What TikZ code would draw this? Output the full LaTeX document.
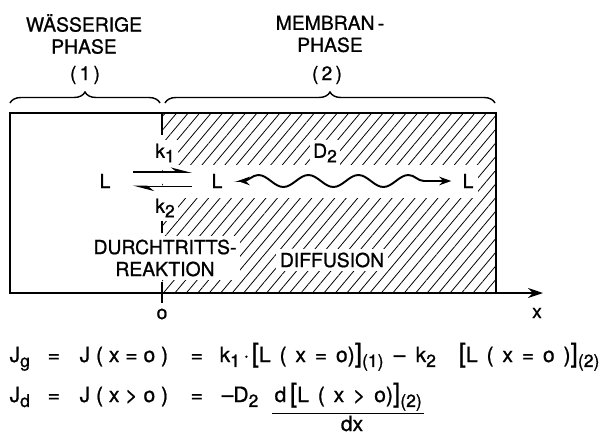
\documentclass[tikz,border=0pt]{standalone}
\usepackage{fontspec}
\setmainfont{TeX Gyre Heros}[BoldFont={TeX Gyre Heros},BoldFeatures={FakeBold=0.9}]
\usepackage{tikz}
\usetikzlibrary{arrows.meta,decorations.pathmorphing,decorations.pathreplacing,patterns.meta}
\newcommand{\idx}[1]{\raisebox{-0.45ex}{\fontsize{10}{10}\selectfont #1}}
\newcommand{\bbr}[1]{{\fontsize{15}{15}\selectfont #1}}
\newcommand{\gp}{\hspace{0.42em}}

\begin{document}
\begin{tikzpicture}[x=0.2mm,y=-0.2mm,line width=1pt,
  font=\fontsize{11}{12.5}\selectfont\bfseries,
  lab/.style={inner sep=1pt},
  wlab/.style={inner sep=2pt,fill=white},
  eqn/.style={inner sep=1pt,anchor=base west,font=\fontsize{12}{14}\selectfont\bfseries},
  harp/.style={line width=1.1pt,-{Stealth[harpoon,length=3.5mm,width=1.8mm]}},
  wave/.style={line width=1.1pt,{Stealth[length=2.4mm,width=1.7mm]}-{Stealth[length=2.4mm,width=1.7mm]},
    decorate,decoration={snake,amplitude=1.2mm,segment length=10mm,pre length=1mm,post length=1mm}},
  hatch/.style={pattern={Lines[angle=50,distance=5pt,line width=0.45pt]}},
  brace/.style={line width=0.8pt,decorate,decoration={brace,amplitude=2.2mm}}]
  \useasboundingbox (0,0) rectangle (602,433);
  % phases
  \fill[hatch] (162,113) rectangle (496,293);
  \fill[white] (163,165) rectangle (478,198);
  \draw (10,113) rectangle (496,293);
  \coordinate (o) at (162,293); \coordinate (xend) at (543,293);
  \draw[-{Stealth[length=3mm,width=2mm]}] (o) -- (xend);
  \draw (162,113) -- (162,135); \draw (162,218) -- (162,233); \draw (162,282) -- (162,303);
  % headers
  \node[lab,align=center] (aq) at (84,34) {WÄSSERIGE\\PHASE};
  \node[lab] (aq1) at (85,75) {(\,1\,)};
  \node[lab,align=center] (mem) at (330,34) {MEMBRAN\,-\\PHASE};
  \node[lab] (mem2) at (327,75) {(\,2\,)};
  \draw[brace] (10,103) -- (160,103);
  \draw[brace] (165,103) -- (495,103);
  % reaction and diffusion
  \node[wlab] (k1) at (165,153) {k\idx{1}};
  \node[wlab] (k2) at (165,208) {k\idx{2}};
  \node[inner sep=0pt] (Lw) at (105,181) {L};
  \node[inner sep=0pt] (Lm) at (217,181) {L};
  \node[inner sep=0pt] (Lr) at (468,181) {L};
  \draw[harp] ([xshift=4.3mm,yshift=1.8mm]Lw.east) -- ([xshift=-3.7mm,yshift=1.8mm]Lm.west);
  \draw[harp] ([xshift=-3.7mm,yshift=-1.1mm]Lm.west) -- ([xshift=4.3mm,yshift=-1.1mm]Lw.east);
  \draw[wave] ([xshift=2.9mm]Lm.east) -- ([xshift=-2.1mm]Lr.west);
  \node[wlab] (D2) at (325,153) {D\idx{2}};
  \node[wlab,align=center] (durch) at (165,258) {DURCHTRITTS-\\REAKTION};
  \node[wlab] (diff) at (332,260) {DIFFUSION};
  \node[lab] (zero) at (162,314) {o};
  \node[lab] (xlab) at (537,313) {x};
  % fluxes
  \node[eqn] (Jg) at (7,362) {J\idx{g}};
  \node[eqn] (eq1) at (45,362) {=};
  \node[eqn] (J0) at (77,362) {J ( x = o )};
  \node[eqn] (eq2) at (188,362) {=};
  \node[eqn] (fl1) at (217,362) {k\idx{1}\,·};
  \node[eqn] (br1) at (249,362) {\bbr{[}L\gp(\gp x\gp=\gp o)\bbr{]}\idx{(1)}};
  \node[eqn] (mi) at (391,362) {–};
  \node[eqn] (k2e) at (413,362) {k\idx{2}};
  \node[eqn] (br2) at (456,362) {\bbr{[}L\gp(\gp x\gp=\gp o\gp)\bbr{]}\idx{(2)}};
  \node[eqn] (Jd) at (7,402) {J\idx{d}};
  \node[eqn] (eq3) at (45,402) {=};
  \node[eqn] (J1) at (77,402) {J ( x > o )};
  \node[eqn] (eq4) at (188,402) {=};
  \node[eqn] (mD) at (219,402) {–D\idx{2}};
  \node[eqn] (num) at (272,402) {d\,\bbr{[}L\gp(\gp x\gp>\gp o)\bbr{]}\idx{(2)}};
  \draw[line width=0.8pt] (num.south west) -- (num.south east);
  \node[eqn,anchor=base] (den) at (352,431) {dx};
\end{tikzpicture}
\end{document}
